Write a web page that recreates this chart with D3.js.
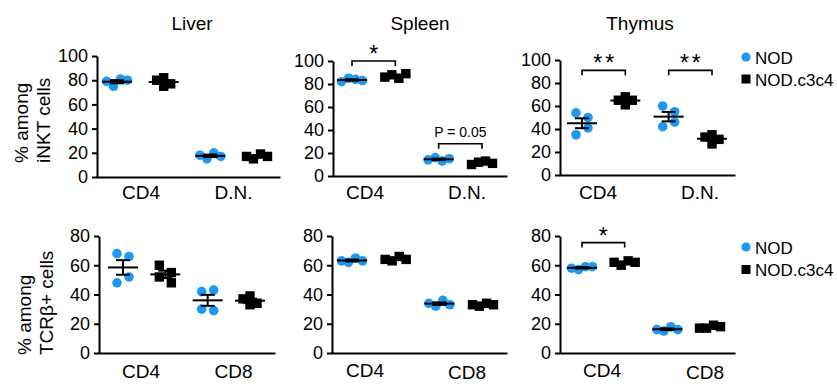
<!DOCTYPE html>
<html><head><meta charset="utf-8">
<script src="https://cdn.jsdelivr.net/npm/d3@7/dist/d3.min.js"></script>
<style>
body{margin:0;background:#fff}
svg{display:block;font-family:"Liberation Sans",Arial,Helvetica,sans-serif}
</style>
</head><body>
<svg id="chart" width="837" height="384"></svg>
<script>
// ---------------- DATA ----------------
const tissues = ["Liver", "Spleen", "Thymus"];
const strains = ["NOD", "NOD.c3c4"];
const catsTop = ["CD4", "D.N."];
const catsBottom = ["CD4", "CD8"];
const ticksTop = [0, 20, 40, 60, 80, 100];
const ticksBottom = [0, 20, 40, 60, 80];
const yTitleTop = ["% among", "iNKT cells"];
const yTitleBottom = ["% among", "TCRβ+ cells"];

// % among iNKT cells: [NOD CD4, NOD.c3c4 CD4, NOD D.N., NOD.c3c4 D.N.]
const inktLiver  = [[79, 75, 81, 80], [80, 75, 82, 77], [18, 15, 20, 17], [17, 15, 19, 17]];
const inktSpleen = [[82, 85, 84, 83], [86, 88, 85, 89], [14, 16, 13, 15], [10, 12, 13, 11]];
const inktThymus = [[54, 50, 35, 41], [65, 68, 61, 65], [60, 55, 42, 46], [33, 35, 27, 31]];

// % among TCRβ+ cells: [NOD CD4, NOD.c3c4 CD4, NOD CD8, NOD.c3c4 CD8]
const tcrLiver  = [[68, 66, 48, 52], [60, 55, 52, 48], [42, 43, 30, 29], [37, 39, 33, 34]];
const tcrSpleen = [[63, 62, 65, 63], [64, 63, 66, 64], [34, 32, 36, 33], [33, 32, 34, 33]];
const tcrThymus = [[58, 57, 59, 59], [62, 60, 63, 62], [16, 15, 18, 16], [17, 17, 19, 18]];

// significance: [tissue, category, label, bracket value]
const sigTop = [["Spleen", "CD4", "*", 100], ["Spleen", "D.N.", "P = 0.05", 28],
                ["Thymus", "CD4", "**", 91], ["Thymus", "D.N.", "**", 91]];
const sigBottom = [["Thymus", "CD4", "*", 75.5]];

// ---------------- LAYOUT / STYLE ----------------
const BLUE = "#1e98f0";
const svg = d3.select("#chart");

const rows = [
  { data: [inktLiver, inktSpleen, inktThymus], cats: catsTop, ticks: ticksTop, max: 100,
    yTitle: yTitleTop, yTitlePos: { y: 163, x: [28, 50] }, sig: sigTop, titles: true,
    legend: { cy: [57, 79] },
    panels: [
      { x0: 97,  x1: 280, yT: 56, yB: 177, col: [117, 257], lab: [141, 233.5], labY: [199, 199] },
      { x0: 333, x1: 507, yT: 61, yB: 176, col: [352, 482], lab: [365, 467],   labY: [199, 199] },
      { x0: 560, x1: 735, yT: 60, yB: 175, col: [582, 712], lab: [598, 700],   labY: [199, 199] }
    ] },
  { data: [tcrLiver, tcrSpleen, tcrThymus], cats: catsBottom, ticks: ticksBottom, max: 80,
    yTitle: yTitleBottom, yTitlePos: { y: 355, x: [31, 53] }, sig: sigBottom, titles: false,
    legend: { cy: [247, 269.5] },
    panels: [
      { x0: 99,  x1: 275, yT: 236, yB: 353, col: [123, 250], lab: [141, 233.5], labY: [378, 378] },
      { x0: 332, x1: 507, yT: 236, yB: 353, col: [352, 483], lab: [365, 467],   labY: [377, 379] },
      { x0: 560, x1: 735, yT: 236, yB: 353, col: [582, 710], lab: [602, 705],   labY: [377, 379] }
    ] }
];
const titleX = [192, 420, 640];

// swarm offsets: bin close values, spread each bin symmetrically
function swarm(vals, y, thr) {
  const idx = vals.map((v, i) => i).sort((a, b) => vals[a] - vals[b]);
  const off = new Array(vals.length).fill(0);
  let bins = [], cur = [];
  idx.forEach(i => {
    if (cur.length && Math.abs(y(vals[i]) - y(vals[cur[0]])) > thr) { bins.push(cur); cur = []; }
    cur.push(i);
  });
  if (cur.length) bins.push(cur);
  bins.forEach(b => {
    b.sort((a, c) => a - c);
    const n = b.length, s = n === 2 ? 12 : 7;
    b.forEach((i, k) => off[i] = (k - (n - 1) / 2) * s);
  });
  return off;
}

rows.forEach((row, ri) => {
  // y-axis title
  row.yTitle.forEach((t, li) => {
    svg.append("text")
      .attr("transform", `translate(${row.yTitlePos.x[li]},${row.yTitlePos.y}) rotate(-90)`)
      .attr("font-size", 19).attr("fill", "#000").text(t);
  });

  row.panels.forEach((p, pi) => {
    const g = svg.append("g");
    const y = d3.scaleLinear().domain([0, row.max]).range([p.yB, p.yT]);
    const cols = [];
    row.cats.forEach(c => strains.forEach(s => cols.push(c + "|" + s)));
    const x = d3.scalePoint().domain(cols).range(p.col);
    const lab = d3.scalePoint().domain(row.cats).range(p.lab);

    // x axis line
    const xl = d3.scaleLinear().domain([0, 1]).range([p.x0 - 1, p.x1]);
    g.append("g").attr("transform", `translate(0,${p.yB})`)
      .call(d3.axisBottom(xl).tickValues([]).tickSizeOuter(0))
      .call(a => a.select(".domain").attr("stroke", "#000").attr("stroke-width", 2));
    // y axis
    g.append("g").attr("transform", `translate(${p.x0},0)`)
      .call(d3.axisLeft(y).tickValues(row.ticks).tickSize(5).tickSizeOuter(0).tickPadding(4))
      .call(a => {
        a.select(".domain").attr("stroke", "#000").attr("stroke-width", 2);
        a.selectAll(".tick line").attr("stroke", "#000").attr("stroke-width", 2);
        a.selectAll(".tick text").attr("font-size", 18).attr("fill", "#000")
          .attr("font-family", "Liberation Sans, Arial, sans-serif");
      });

    // category labels
    row.cats.forEach((c, ci) => {
      g.append("text").attr("x", lab(c)).attr("y", p.labY[ci])
        .attr("text-anchor", "middle").attr("font-size", 19).attr("fill", "#000").text(c);
    });

    // title
    if (row.titles) {
      g.append("text").attr("x", titleX[pi]).attr("y", 30).attr("text-anchor", "middle")
        .attr("font-size", 19).attr("fill", "#000").text(tissues[pi]);
    }

    // points + mean/SEM
    const set = row.data[pi];
    cols.forEach((key, k) => {
      const vals = set[k];
      const isNOD = k % 2 === 0;
      const cx = x(key);
      const off = swarm(vals, y, 8);
      if (isNOD) {
        g.selectAll(null).data(vals).enter().append("circle")
          .attr("cx", (d, i) => cx + off[i]).attr("cy", d => y(d)).attr("r", 4.8).attr("fill", BLUE);
      } else {
        const sz = 9.4;
        g.selectAll(null).data(vals).enter().append("rect")
          .attr("x", (d, i) => cx + off[i] - sz / 2).attr("y", d => y(d) - sz / 2)
          .attr("width", sz).attr("height", sz).attr("fill", "#000");
      }
      const m = d3.mean(vals), sem = d3.deviation(vals) / Math.sqrt(vals.length);
      const lg = g.append("g").attr("stroke", "#000").attr("stroke-width", 2);
      lg.append("line").attr("x1", cx - 15).attr("x2", cx + 15).attr("y1", y(m)).attr("y2", y(m));
      lg.append("line").attr("x1", cx).attr("x2", cx).attr("y1", y(m - sem)).attr("y2", y(m + sem));
      [m - sem, m + sem].forEach(v =>
        lg.append("line").attr("x1", cx - 7).attr("x2", cx + 7).attr("y1", y(v)).attr("y2", y(v)));
    });

    // significance brackets
    row.sig.filter(s => s[0] === tissues[pi]).forEach(s => {
      const xa = x(s[1] + "|" + strains[0]), xb = x(s[1] + "|" + strains[1]);
      const yy = y(s[3]);
      g.append("path").attr("d", `M${xa},${yy + 5}V${yy}H${xb}V${yy + 5}`)
        .attr("fill", "none").attr("stroke", "#000").attr("stroke-width", 1.6);
      const isStar = s[2].indexOf("*") === 0;
      const t = g.append("text").attr("x", (xa + xb) / 2).attr("text-anchor", "middle")
        .attr("fill", "#000").text(s[2]);
      if (isStar) {
        t.attr("y", yy + 1).attr("font-size", 23);
        if (s[2].length > 1) t.attr("letter-spacing", 3).attr("dx", 1.5);
      } else {
        t.attr("y", yy - 7).attr("font-size", 14);
      }
    });
  });

  // legend
  const lg = svg.append("g");
  lg.append("circle").attr("cx", 746).attr("cy", row.legend.cy[0]).attr("r", 4.6).attr("fill", BLUE);
  lg.append("rect").attr("x", 741.5).attr("y", row.legend.cy[1] - 4.5).attr("width", 9).attr("height", 9).attr("fill", "#000");
  strains.forEach((s, i) => {
    lg.append("text").attr("x", 755).attr("y", row.legend.cy[i] + 6.5)
      .attr("font-size", 17).attr("fill", "#000").text(s);
  });
});
</script>
</body></html>
